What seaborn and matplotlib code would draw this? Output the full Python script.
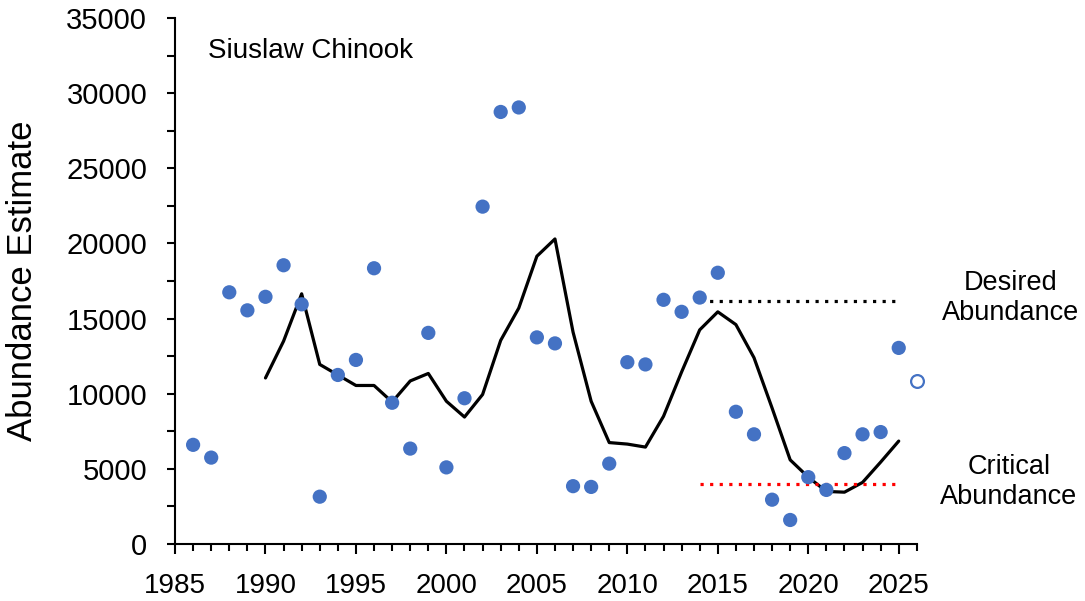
import matplotlib
matplotlib.use("Agg")
import matplotlib.pyplot as plt
from matplotlib.ticker import MultipleLocator
import seaborn as sns
import pandas as pd

# observed abundance estimates (filled dots)
years = list(range(1986, 2026))
abundance = [6600, 5750, 16750, 15550, 16450, 18550, 15950, 3150, 11250, 12250,
             18350, 9400, 6350, 14050, 5100, 9700, 22450, 28750, 29050, 13750,
             13350, 3850, 3800, 5350, 12100, 11950, 16250, 15450, 16400, 18050,
             8800, 7300, 2950, 1600, 4450, 3600, 6050, 7300, 7450, 13050]

# preliminary estimate (open dot)
prelim_year = [2026]
prelim_value = [10850]

# running average line
avg_years = list(range(1990, 2026))
avg_values = [11050, 13500, 16650, 11950, 11250, 10550, 10550, 9450, 10850, 11350,
              9500, 8450, 9950, 13550, 15700, 19150, 20300, 14100, 9500, 6750,
              6650, 6450, 8500, 11450, 14250, 15450, 14600, 12400, 9050, 5600,
              4450, 3500, 3450, 4100, 5450, 6850]

desired_years = [2014, 2025]
desired_level = [16200, 16200]
critical_years = [2014, 2025]
critical_level = [4000, 4000]

obs = pd.DataFrame({"Year": years, "Abundance": abundance})
avg = pd.DataFrame({"Year": avg_years, "Average": avg_values})

sns.set_style("ticks")
plt.rcParams["font.family"] = ["Liberation Sans", "DejaVu Sans"]
plt.rcParams.update({"text.color": "black", "axes.labelcolor": "black",
                     "xtick.color": "black", "ytick.color": "black"})

fig = plt.figure(figsize=(10.85, 6.01), dpi=100)
ax = fig.add_axes([0.1613, 0.0948, 0.6837, 0.8752])

blue = "#4472C4"
sns.lineplot(data=avg, x="Year", y="Average", color="black", lw=2.3, ax=ax)
ax.plot(desired_years, desired_level, color="black", lw=2.3, ls=(0, (1, 2)))
ax.plot(critical_years, critical_level, color="#FF0000", lw=2.3, ls=(0, (1, 2)))
sns.scatterplot(data=obs, x="Year", y="Abundance", color=blue, s=105,
                edgecolor="none", ax=ax, zorder=3)
ax.scatter(prelim_year, prelim_value, s=85, facecolor="white", edgecolor=blue,
           linewidth=1.6, zorder=3, clip_on=False)

ax.set_xlim(1985, 2026)
ax.set_ylim(0, 35000)
ax.xaxis.set_major_locator(MultipleLocator(5))
ax.xaxis.set_minor_locator(MultipleLocator(1))
ax.yaxis.set_major_locator(MultipleLocator(5000))
ax.yaxis.set_minor_locator(MultipleLocator(2500))

ax.set_xlabel("")
ax.set_ylabel("Abundance Estimate", fontsize=25, labelpad=20)
ax.tick_params(axis="both", which="both", direction="out", width=1.5, color="black")
ax.tick_params(axis="x", which="major", length=7, labelsize=20, pad=14)
ax.tick_params(axis="x", which="minor", length=5)
ax.tick_params(axis="y", which="major", length=6, labelsize=21, pad=14)
ax.tick_params(axis="y", which="minor", length=6)

sns.despine(ax=ax)
for side in ["left", "bottom"]:
    ax.spines[side].set_linewidth(1.5)
    ax.spines[side].set_color("black")

ax.text(0.0445, 0.938, "Siuslaw Chinook", transform=ax.transAxes,
        fontsize=20, ha="left", va="center")
fig.text(1011 / 1085, 1 - 298 / 601, "Desired\nAbundance", fontsize=19.5,
         ha="center", va="center", linespacing=1.15)
fig.text(1009 / 1085, 1 - 482 / 601, "Critical\nAbundance", fontsize=19.5,
         ha="center", va="center", linespacing=1.15)

fig.savefig("out.png", dpi=100)
